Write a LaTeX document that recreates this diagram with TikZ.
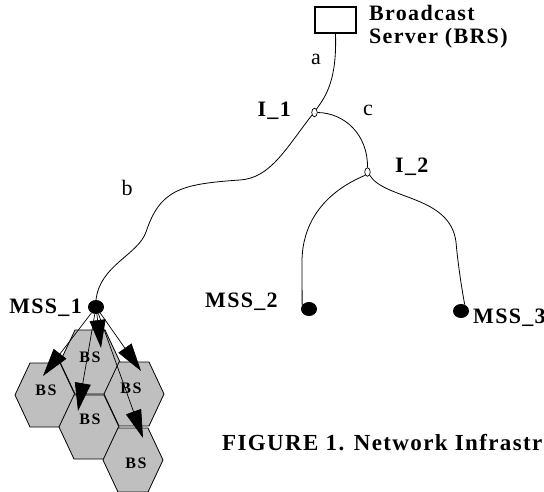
\documentclass[tikz,border=0pt]{standalone}
\usepackage{fontspec}
\setmainfont{Liberation Serif}
\newfontfamily\trk[LetterSpace=6]{Liberation Serif}
\newfontfamily\trkb[LetterSpace=10]{Liberation Serif}
\usetikzlibrary{arrows.meta,shapes.geometric}
\definecolor{hexgray}{RGB}{191,191,191}
\begin{document}
\begin{tikzpicture}[x=1pt,y=-1pt,
  wire/.style={line width=0.8pt},
  bold lab/.style={font=\trk\bfseries\fontsize{22}{24}\selectfont, inner sep=0pt},
  plain lab/.style={font=\fontsize{22}{24}\selectfont, inner sep=0pt},
  junction/.style={ellipse, draw, fill=white, line width=0.7pt, inner sep=0pt, minimum width=5.5pt, minimum height=8.5pt},
  station/.style={ellipse, fill=black, inner sep=0pt, minimum width=16pt, minimum height=14pt},
  server/.style={draw, line width=1.2pt, minimum width=41pt, minimum height=26pt, inner sep=0pt},
  cell/.style={draw, fill=hexgray, line width=0.8pt},
  bs/.style={font=\trkb\bfseries\fontsize{16}{18}\selectfont, inner sep=0pt},
  beam/.style={line width=0.7pt, -{Triangle[length=28pt,width=16pt]}},
  pics/hexcell/.style={code={\draw[cell] (-30,0) -- (-15,-32) -- (15,-32) -- (30,0) -- (15,32) -- (-15,32) -- cycle;}}
]
\useasboundingbox (0,0) rectangle (544,492);
\clip (0,0) rectangle (544,492);

% server and labels
\node[server] (srv) at (335.5,20) {};
\node[bold lab, anchor=base west] (brs1) at (369,21) {Broadcast};
\node[bold lab, anchor=base west] (brs2) at (369,44) {Server (BRS)};

% junctions and stations
\node[junction] (i1) at (314.5,112.5) {};
\node[junction] (i2) at (367.5,172) {};
\node[station] (mss1) at (96,307) {};
\node[station] (mss2) at (309,309) {};
\node[station] (mss3) at (461,311) {};

\node[bold lab, anchor=base east] (li1) at (291,117) {I\_1};
\node[bold lab, anchor=base west] (li2) at (395,173) {I\_2};
\node[bold lab, anchor=base east] (lm1) at (82,313) {MSS\_1};
\node[bold lab, anchor=base west] (lm2) at (205,307) {MSS\_2};
\node[bold lab, anchor=base west] (lm3) at (473,323) {MSS\_3};

\node[plain lab] (la) at (316,59) {a};
\node[plain lab] (lb) at (127,188) {b};
\node[plain lab] (lc) at (368,110) {c};

% links
\draw[wire] (srv.south) .. controls (337,80) and (326,96) .. (i1.60);
\draw[wire] (i1.east) .. controls (345,113) and (368,135) .. (i2.north);
\draw[wire] (i1.225) .. controls (285,150) and (270,178) .. (240,180)
  .. controls (180,184) and (160,190) .. (146,232)
  .. controls (138,255) and (100,265) .. (mss1.north);
\draw[wire] (i2.south west) .. controls (325,192) and (302,222) .. (302,262) -- (mss2.150);
\draw[wire] (i2.south east) .. controls (385,200) and (450,195) .. (456,242)
  .. controls (458,265) and (462,290) .. (mss3.60);

% cells
\pic at (90,362) {hexcell};
\pic at (45,395) {hexcell};
\pic at (134,394) {hexcell};
\pic at (89,427) {hexcell};
\pic at (133,460) {hexcell};
\node[bs] (bs1) at (90,357) {BS};
\node[bs] (bs2) at (46,390) {BS};
\node[bs] (bs3) at (131,388) {BS};
\node[bs] (bs4) at (90,419) {BS};
\node[bs] (bs5) at (136,463) {BS};

% beams
\coordinate (t1) at (43,376);
\coordinate (t2) at (78,411);
\coordinate (t3) at (101,348);
\coordinate (t4) at (141,371);
\coordinate (t5) at (143,438);
\foreach \t in {t1,t2,t3,t4,t5} \draw[beam] (mss1) -- (\t);

% caption
\node[bold lab, font=\trk\bfseries\fontsize{23}{25}\selectfont, anchor=base west] (cap) at (222,450) {FIGURE 1. Network Infrastructure};
\end{tikzpicture}
\end{document}
